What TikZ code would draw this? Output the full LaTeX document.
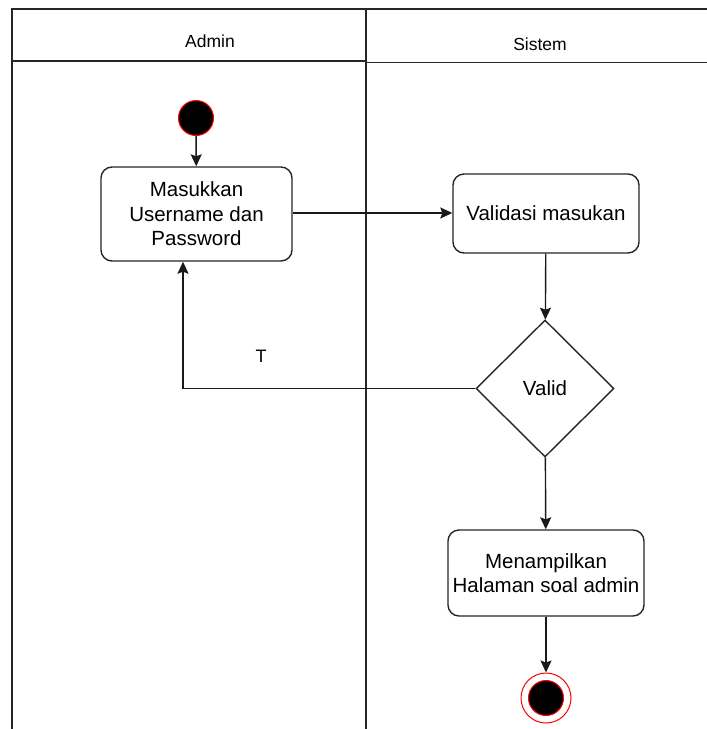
\documentclass[tikz,border=0pt]{standalone}
\usepackage{fontspec}
\setmainfont{Liberation Sans}
\usetikzlibrary{arrows.meta,shapes.geometric}
\begin{document}
\begin{tikzpicture}[x=1pt,y=-1pt,
  lane/.style={line width=1.4pt,draw=black!85},
  act/.style={draw=black!85,line width=1.4pt,rounded corners=11pt,fill=white,
    align=center,font=\fontsize{20.5}{24.5}\selectfont,inner sep=0pt},
  dec/.style={draw=black!85,line width=1.4pt,diamond,fill=white,inner sep=0pt,
    minimum width=138pt,minimum height=137pt,font=\fontsize{20.5}{24.5}\selectfont},
  flow/.style={line width=1.4pt,draw=black!90,-{Stealth[length=12pt,width=11pt,inset=2pt]}},
  hdr/.style={font=\fontsize{17.5}{20}\selectfont}]
\useasboundingbox (0,0) rectangle (707,729);
% swimlane frame
\draw[lane] (12,729) -- (12,9) -- (707,9);
\draw[lane] (366,9) -- (366,729);
\draw[lane] (12,61) -- (366,61);
\draw[lane] (366,62.5) -- (707,62.5);
\node[hdr] (hAdmin) at (210,41) {Admin};
\node[hdr] (hSistem) at (540,44) {Sistem};
% nodes
\node[circle,fill=black,draw=red,line width=1pt,minimum size=35pt,inner sep=0pt] (start) at (196,118) {};
\node[act,minimum width=191pt,minimum height=94pt] (masuk) at (196.5,214) {Masukkan\\Username dan\\Password};
\node[act,minimum width=186pt,minimum height=79pt] (valid) at (546,213.5) {Validasi masukan};
\node[dec] (cek) at (545,388.5) {Valid};
\node[act,minimum width=196pt,minimum height=86pt] (tampil) at (546,573) {Menampilkan\\Halaman soal admin};
\node[circle,draw=red,fill=white,line width=1pt,minimum size=50pt,inner sep=0pt] (end) at (546,698) {};
\node[circle,fill=black,draw=red,line width=1pt,minimum size=35pt,inner sep=0pt] (endcore) at (end.center) {};
\node[font=\fontsize{18}{20}\selectfont] (lblT) at (261,356) {T};
% connectors
\draw[flow] (start) -- (masuk);
\draw[flow] (masuk.east |- 0,213) -- (valid.west |- 0,213);
\draw[flow] (valid) -- (cek);
\draw[flow] (cek.west) -| ([xshift=-13.5pt]masuk.south);
\draw[flow] (cek) -- (tampil);
\draw[flow] (tampil) -- (end);
\end{tikzpicture}
\end{document}
